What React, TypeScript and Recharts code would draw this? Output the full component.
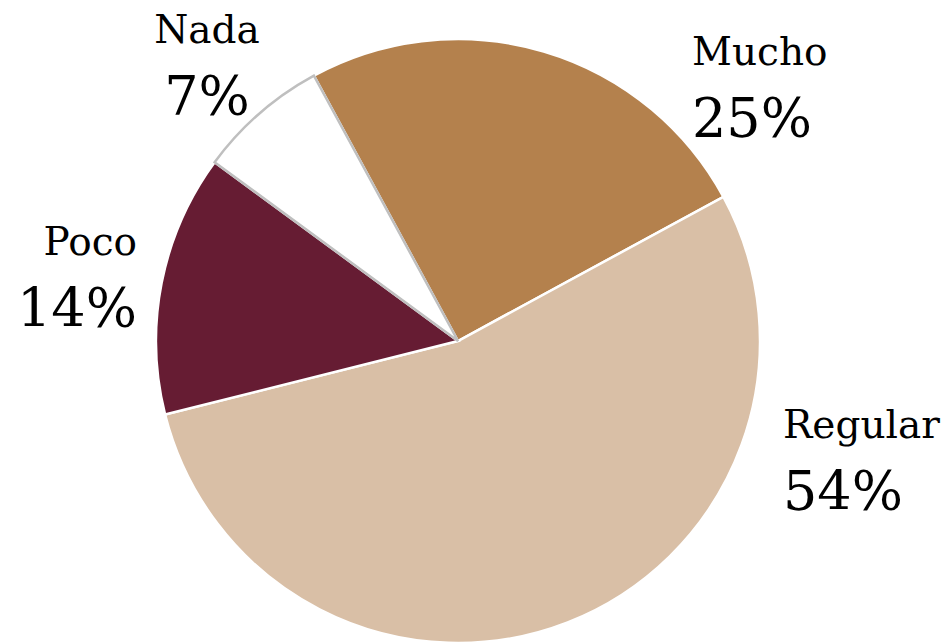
import React from 'react';
import { PieChart, Pie, Cell } from 'recharts';

// Slices in drawing order (clockwise from Mucho)
const categories = ['Mucho', 'Regular', 'Poco', 'Nada'];
const shares = [25, 54, 14, 7];
const COLORS = ['#B4814D', '#D9BFA6', '#661C33', '#FFFFFF'];
const STROKES = ['#FFFFFF', '#FFFFFF', '#FFFFFF', '#BFBFBF'];

// label placement, offset from the pie centre (px), and text alignment
const LABEL_POS: Record<string, { dx: number; dy: number; anchor: 'start' | 'middle' | 'end' }> = {
  Mucho: { dx: 234, dy: -276, anchor: 'start' },
  Regular: { dx: 325, dy: 97, anchor: 'start' },
  Poco: { dx: -321, dy: -86, anchor: 'end' },
  Nada: { dx: -251, dy: -298, anchor: 'middle' }
};

const data = categories.map((name, i) => ({ name, value: shares[i] }));

const FONT = '"DejaVu Serif", Cambria, serif';

const renderLabel = (props: any) => {
  const { cx, cy, name, value } = props;
  const pos = LABEL_POS[name];
  if (!pos) return null;
  const x = cx + pos.dx;
  const y = cy + pos.dy;
  return (
    <g>
      <text x={x} y={y} textAnchor={pos.anchor} fontFamily={FONT} fontSize={39} fill="#000">
        {name}
      </text>
      <text x={x} y={y + 72} textAnchor={pos.anchor} fontFamily={FONT} fontSize={54} fill="#000">
        {`${value}%`}
      </text>
    </g>
  );
};

export default function App() {
  return (
    <div style={{ position: 'absolute', left: 0, top: 0, width: 943, height: 643, background: '#fff' }}>
      <PieChart width={943} height={643} margin={{ top: 0, right: 0, bottom: 0, left: 0 }}>
        <Pie
          data={data}
          dataKey="value"
          nameKey="name"
          cx={458}
          cy={341}
          outerRadius={302}
          startAngle={118.5}
          endAngle={-241.5}
          label={renderLabel}
          labelLine={false}
          isAnimationActive={false}
        >
          {data.map((entry, index) => (
            <Cell key={`cell-${index}`} fill={COLORS[index]} stroke={STROKES[index]} strokeWidth={2.5} />
          ))}
        </Pie>
      </PieChart>
    </div>
  );
}
